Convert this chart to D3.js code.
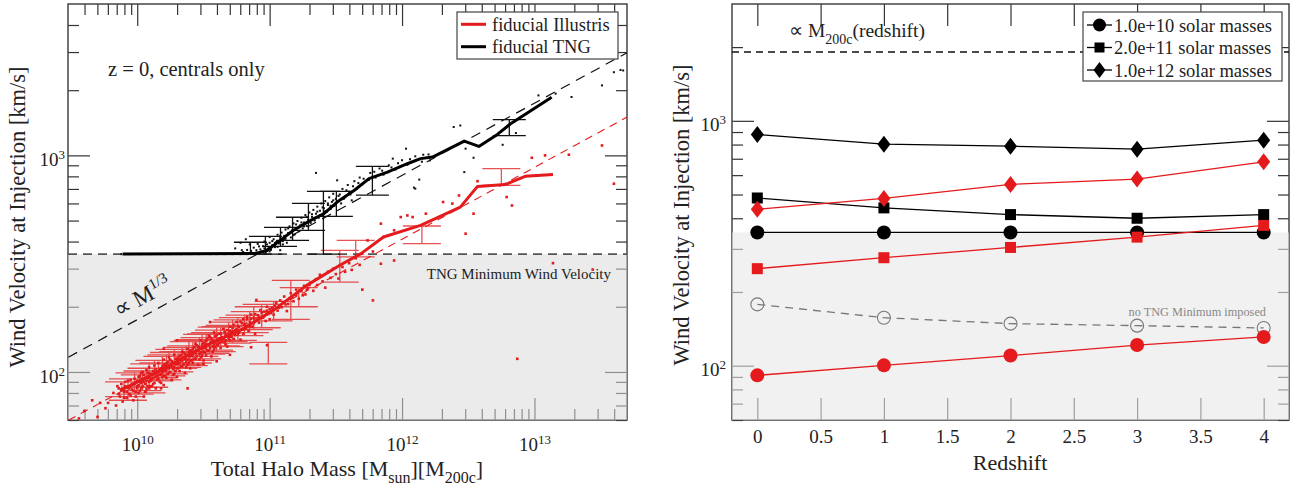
<!DOCTYPE html>
<html><head><meta charset="utf-8">
<script src="https://cdn.jsdelivr.net/npm/d3@7"></script>
<style>body{margin:0;background:#fff}svg{display:block}text{font-family:"Liberation Serif","Times New Roman",serif;fill:#222}</style>
</head><body><svg id="c" width="1298" height="495"></svg>
<script>
// ---------------- data: left panel ----------------
const massDomain = [3e9, 5e13];
const velDomainL = [60, 5000];
const massMajorTicks = [1e10, 1e11, 1e12, 1e13];
const massMinorTicks = [4e9,5e9,6e9,7e9,8e9,9e9,2e10,3e10,4e10,5e10,6e10,7e10,8e10,9e10,2e11,3e11,4e11,5e11,6e11,7e11,8e11,9e11,2e12,3e12,4e12,5e12,6e12,7e12,8e12,9e12,2e13,3e13,4e13];
const velMajorTicks = [100, 1000];
const velMinorTicksL = [60,70,80,90,200,300,400,500,600,700,800,900,2000,3000,4000];
const tngMinimum = 350;
// median relations (log10 halo mass, wind velocity km/s)
const tngMedianLogM = [9.89,10.89,10.98,11.08,11.18,11.31,11.41,11.51,11.64,11.75,11.89,12.04,12.14,12.23,12.47,12.58,12.72,12.82,13.13];
const tngMedianV    = [350,352,364,405,451,501,538,609,690,781,837,915,966,982,1164,1100,1250,1400,1857];
const illMedianLogM = [9.87,10.18,10.48,10.78,11.03,11.28,11.53,11.69,11.86,12.14,12.44,12.57,12.78,12.93,13.14];
const illMedianV    = [82,102,129,156,193,251,311,352,420,475,577,719,733,800,815];
// reference power laws (two end points each)
const tngRefLogM = [9.48, 13.7], tngRefV = [117, 2980];
const illRefLogM = [9.48, 13.7], illRefV = [59.8, 1503];
// error bars [logM, low, high]
const tngErrBars = [[10.855,350,397],[10.968,350,423],[11.082,380,465],[11.173,405,518],[11.293,451,600],[11.406,350,682],[11.504,523,682],[11.776,655,889],[12.81,1233,1462]];
const illErrBars = [[9.93,74,93],[9.98,79,99],[10.04,82,101],[10.09,85,109],[10.13,91,113],[10.19,92,118],[10.24,98,123],[10.28,100,127],[10.34,105,130],[10.39,107,138],[10.44,113,141],[10.49,115,149],[10.55,122,152],[10.6,124,161],[10.66,131,164],[10.72,136,174],[10.81,147,183],[10.88,157,200],[10.99,109,137],[11.03,172,212],[11.16,175,265],[11.22,200,245],[11.53,260,364],[11.65,340,405],[12.15,391,472],[12.75,727,868],
[9.9,77,90],[10.02,85,97],[10.07,80,104],[10.16,94,110],[10.22,96,120],[10.31,104,124],[10.37,108,132],[10.42,110,140],[10.47,118,144],[10.52,121,150],[10.58,126,156],[10.63,132,162],[10.69,138,170],[10.76,140,178],[10.85,152,190],[10.94,160,205]];
// individual haloes [logM, v]
const illScatter = [
[9.56,61],[9.6,66],[9.66,74],[9.7,62],[9.72,72],[9.76,68],[9.78,72],[9.82,80],[9.84,70],[9.86,84],[9.87,77],[9.88,88],[9.89,73],[9.9,81],[9.91,90],[9.92,76],[9.93,85],[9.94,79],[9.95,92],[9.96,83],[9.97,74],[9.98,88],[9.99,81],
[10.0,86],[10.01,95],[10.01,80],[10.02,90],[10.03,99],[10.03,84],[10.04,92],[10.05,77],[10.05,97],[10.06,88],[10.07,102],[10.07,83],[10.08,94],[10.09,90],[10.09,105],[10.1,86],[10.1,98],
[10.11,92],[10.12,101],[10.12,88],[10.13,107],[10.14,95],[10.14,84],[10.15,99],[10.16,110],[10.16,93],[10.17,103],[10.18,89],[10.18,98],[10.19,106],[10.2,96],[10.2,114],[10.2,87],
[10.21,101],[10.22,109],[10.22,94],[10.23,105],[10.24,117],[10.24,99],[10.25,107],[10.26,92],[10.26,112],[10.27,103],[10.28,120],[10.28,98],[10.29,109],[10.3,104],[10.3,115],[10.3,95],
[10.31,110],[10.32,118],[10.32,101],[10.33,113],[10.34,124],[10.34,106],[10.35,116],[10.36,99],[10.36,121],[10.37,111],[10.38,128],[10.38,108],[10.39,118],[10.4,113],[10.4,125],[10.4,104],
[10.41,119],[10.42,128],[10.42,110],[10.43,123],[10.44,135],[10.44,115],[10.45,126],[10.46,108],[10.46,131],[10.47,121],[10.48,140],[10.48,117],[10.49,128],[10.5,124],[10.5,136],[10.5,113],
[10.51,129],[10.52,139],[10.52,119],[10.53,134],[10.54,147],[10.54,125],[10.55,136],[10.56,118],[10.56,143],[10.57,131],[10.58,152],[10.58,127],[10.59,139],[10.6,134],[10.6,148],
[10.61,139],[10.62,150],[10.63,129],[10.64,145],[10.65,158],[10.66,137],[10.67,149],[10.68,131],[10.68,156],[10.69,143],[10.7,162],[10.7,140],
[10.71,150],[10.72,160],[10.73,142],[10.74,156],[10.75,170],[10.76,149],[10.77,161],[10.78,141],[10.79,168],[10.8,157],[10.8,175],
[10.82,163],[10.83,175],[10.84,155],[10.85,170],[10.86,184],[10.87,162],[10.88,178],[10.89,150],[10.9,172],
[10.91,183],[10.92,169],[10.93,193],[10.95,178],[10.96,190],[10.97,172],[10.98,200],[10.99,185],[11.0,195],[11.0,175],
[11.02,198],[11.03,184],[11.05,208],[11.06,192],[11.08,214],[11.09,199],[11.11,223],[11.12,205],[11.13,191],[11.15,219],[11.16,231],[11.18,212],[11.2,226],[11.2,240],
[11.22,218],[11.24,236],[11.26,250],[11.27,228],[11.29,244],[11.31,259],[11.33,237],[11.35,268],[11.36,252],[11.38,281],[11.4,262],[11.42,245],[11.44,290],[11.46,272],[11.48,300],[11.5,283],
[11.52,270],[11.55,305],[11.57,290],[11.6,318],[11.62,296],[11.65,335],[11.68,312],[11.7,352],[11.7,240],[11.74,405],[11.78,360],[11.78,214],[11.84,484],[11.84,316],[11.86,420],[11.94,451],[11.94,327],[11.99,519],[12.04,528],[12.08,519],[12.18,538],[12.31,609],[12.38,599],[12.43,653],[12.48,435],[12.54,538],[12.57,760],[12.79,642],[12.83,587],[12.87,115],[12.98,975],[13.08,1000],[13.14,318],[13.26,1007],[13.44,297],[13.51,1111],[13.6,740],
[10.18,84],[10.38,84],[10.5,109],[10.6,112],[10.7,120],[10.86,130],[10.98,133],[10.2,128],[10.3,140],[10.55,170],[10.9,215],
[9.85,86],[9.86,79],[9.88,83],[9.9,76],[9.91,86],[9.92,81],[9.93,91],[9.94,84],[9.95,78],[9.96,88],[9.97,82],[9.98,93],[9.99,77],[10.0,84],[10.0,91],
[10.01,87],[10.02,82],[10.02,96],[10.03,89],[10.04,86],[10.04,100],[10.05,90],[10.06,81],[10.06,94],[10.07,91],[10.08,86],[10.08,99],[10.09,84],[10.1,93],[10.1,91],
[10.11,97],[10.11,86],[10.12,94],[10.13,100],[10.13,89],[10.14,103],[10.15,92],[10.15,96],[10.16,101],[10.17,90],[10.17,97],[10.18,104],[10.19,95],[10.19,100],[10.2,108],[10.2,101],
[10.21,96],[10.21,107],[10.22,102],[10.23,98],[10.23,111],[10.24,104],[10.25,100],[10.25,114],[10.26,106],[10.27,97],[10.27,110],[10.28,105],[10.29,101],[10.29,115],[10.3,109],
[10.31,104],[10.31,116],[10.32,110],[10.33,106],[10.33,120],[10.34,113],[10.35,109],[10.35,123],[10.36,115],[10.37,105],[10.37,119],[10.38,114],[10.39,110],[10.39,124],[10.4,118],
[10.41,113],[10.41,125],[10.42,119],[10.43,115],[10.43,130],[10.44,122],[10.45,118],[10.45,133],[10.46,125],[10.47,114],[10.47,129],[10.48,123],[10.49,119],[10.49,134],[10.5,130],
[10.51,123],[10.51,135],[10.52,130],[10.53,126],[10.53,142],[10.54,133],[10.55,129],[10.55,145],[10.56,137],[10.57,124],[10.57,140],[10.58,134],[10.59,130],[10.59,146],[10.6,141],
[10.61,133],[10.62,143],[10.62,136],[10.63,150],[10.64,138],[10.65,142],[10.66,153],[10.67,140],[10.67,134],[10.69,150],[10.7,146],[10.7,155],
[10.71,145],[10.72,154],[10.73,165],[10.74,148],[10.75,158],[10.76,163],[10.77,152],[10.78,171],[10.8,150],[10.81,166],[10.82,158],[10.83,180],[10.85,162],[10.86,176],[10.88,168],[10.89,185],
[10.92,178],[10.94,188],[10.96,181],[10.98,192],[11.01,187],[11.04,202],[11.07,198],[11.1,210],[11.14,206],[11.17,220],[11.21,232],[11.25,226],[11.28,240],[11.3,252]
];
const tngScatter = [
[9.88,350],[9.95,350],[10.02,350],[10.1,350],[10.18,350],[10.25,350],[10.33,350],[10.4,350],[10.47,350],[10.55,350],[10.6,350],[10.66,350],[10.72,350],[10.78,350],[10.83,350],[10.88,350],
[10.74,372],[10.78,395],[10.82,410],[10.85,388],[10.79,365],
[10.8,358],[10.83,366],[10.86,362],[10.88,375],[10.9,356],[10.91,390],[10.93,368],[10.95,381],[10.96,400],[10.97,358],[10.99,372],[11.0,395],[11.0,420],
[11.01,366],[11.02,385],[11.03,410],[11.04,377],[11.05,398],[11.06,430],[11.07,392],[11.08,365],[11.08,415],[11.09,440],[11.1,402],
[11.11,425],[11.12,455],[11.13,395],[11.14,438],[11.15,470],[11.16,418],[11.17,450],[11.18,485],[11.19,432],[11.2,462],
[11.21,498],[11.22,447],[11.23,475],[11.24,515],[11.25,460],[11.26,490],[11.27,530],[11.28,472],[11.29,505],[11.3,545],
[11.31,488],[11.32,520],[11.33,560],[11.34,500],[11.35,538],[11.36,580],[11.37,515],[11.38,555],[11.39,600],[11.4,530],
[11.41,570],[11.42,615],[11.43,548],[11.44,590],[11.45,640],[11.46,565],[11.47,610],[11.48,665],[11.49,585],[11.5,630],
[11.52,650],[11.54,600],[11.55,700],[11.57,640],[11.59,730],[11.6,680],[11.62,620],[11.64,760],[11.66,700],[11.68,790],[11.7,735],
[11.73,760],[11.76,830],[11.8,790],[11.83,870],[11.86,815],[11.9,900],[11.95,860],[12.0,950],[12.04,905],[12.1,990],[12.15,935],[12.2,1010],
[11.35,830],[11.51,767],[11.93,966],[12.03,1074],[12.1,702],[12.09,710],[12.13,773],[12.16,1007],[12.21,948],[12.39,1352],[12.44,1374],[12.48,1074],[12.54,975],[12.47,837],[12.76,1119],[12.86,1268],[13.03,1892],[13.16,1928],[13.28,1860],[13.51,2104],[13.6,2421],[13.65,2480],[13.67,2466],
[10.9,365],[10.92,380],[10.94,360],[10.96,372],[10.98,388],[11.0,360],[11.02,402],[11.04,394],[11.06,378],[11.08,425],[11.1,388],[11.12,412],[11.14,460],[11.16,442],[11.18,428],[11.2,480],[11.22,465],[11.24,490],[11.26,470],[11.28,520],[11.3,498],[11.32,535],[11.34,515],[11.36,550],[11.38,528],[11.4,575],[11.42,552],[11.44,600],[11.46,585],[11.48,620],[11.5,598],[11.53,660],[11.56,630],[11.58,690],[11.61,660],[11.63,720],[11.67,745],[11.71,780],[11.75,770],[11.79,840],[11.85,850],[11.92,880],[11.97,920],[12.06,960]
];

// ---------------- data: right panel ----------------
const redshiftDomain = [-0.2, 4.2];
const velDomainR = [60, 3000];
const redshiftTicks = [0,0.5,1,1.5,2,2.5,3,3.5,4];
const velMinorTicksR = [60,70,80,90,200,300,400,500,600,700,800,900,2000];
const redshifts = [0, 1, 2, 3, 4];
const tng1e10 = [350, 350, 350, 350, 350];
const tng2e11 = [484, 441, 414, 400, 414];
const tng1e12 = [880, 803, 788, 766, 834];
const ill1e10 = [91.3, 100.3, 110, 121.4, 131];
const ill2e11 = [249, 276, 304, 335, 374];
const ill1e12 = [435, 482, 550, 578, 680];
const noMin1e10 = [178, 157, 148.5, 145.7, 142.6];
const m200Level = 1910;
const legendLabelsR = ["1.0e+10 solar masses", "2.0e+11 solar masses", "1.0e+12 solar masses"];
const legendLabelsL = ["fiducial Illustris", "fiducial TNG"];

// ---------------- drawing ----------------
const RED = "#e41a1c";
const svg = d3.select("#c");
const L = {x0: 68, x1: 627, y0: 4, y1: 420};
const R = {x0: 732, x1: 1289, y0: 4, y1: 420};
const xL = d3.scaleLog().domain(massDomain).range([L.x0, L.x1]);
const yL = d3.scaleLog().domain(velDomainL).range([L.y1, L.y0]);
const xR = d3.scaleLinear().domain(redshiftDomain).range([R.x0, R.x1]);
const yR = d3.scaleLog().domain(velDomainR).range([R.y1, R.y0]);

function axisG(axis, tx, ty) {
  const g = svg.append("g").attr("transform", `translate(${tx},${ty})`).call(axis);
  g.select(".domain").remove();
  g.attr("color", "#333").attr("font-family", "Liberation Serif, serif").attr("font-size", 19);
  g.selectAll("line").attr("stroke-width", 1.2);
  return g;
}
function pow10Labels(g) {
  g.selectAll("text").each(function(d) {
    const t = d3.select(this);
    const e = Math.round(Math.log10(d));
    t.text("10");
    t.append("tspan").attr("dy", "-0.55em").attr("font-size", "13px").text(e);
  });
}
const none = () => "";

// left axes
let g;
g = axisG(d3.axisBottom(xL).tickValues(massMajorTicks).tickSize(-22).tickPadding(18), 0, L.y1); pow10Labels(g);
axisG(d3.axisBottom(xL).tickValues(massMinorTicks).tickSize(-11).tickFormat(none), 0, L.y1);
axisG(d3.axisTop(xL).tickValues(massMajorTicks).tickSize(-22).tickFormat(none), 0, L.y0);
axisG(d3.axisTop(xL).tickValues(massMinorTicks).tickSize(-11).tickFormat(none), 0, L.y0);
g = axisG(d3.axisLeft(yL).tickValues(velMajorTicks).tickSize(-22).tickPadding(3), L.x0, 0); pow10Labels(g);
g.selectAll("text").attr("dy", "0.55em");
axisG(d3.axisLeft(yL).tickValues(velMinorTicksL).tickSize(-11).tickFormat(none), L.x0, 0);
axisG(d3.axisRight(yL).tickValues(velMajorTicks).tickSize(-22).tickFormat(none), L.x1, 0);
axisG(d3.axisRight(yL).tickValues(velMinorTicksL).tickSize(-11).tickFormat(none), L.x1, 0);
svg.append("rect").attr("x", L.x0).attr("y", L.y0).attr("width", L.x1 - L.x0).attr("height", L.y1 - L.y0)
  .attr("fill", "none").attr("stroke", "#444").attr("stroke-width", 1.5);

// right axes
axisG(d3.axisBottom(xR).tickValues(redshiftTicks).tickSize(-22).tickPadding(10).tickFormat(d3.format("")), 0, R.y1);
axisG(d3.axisTop(xR).tickValues(redshiftTicks).tickSize(-22).tickFormat(none), 0, R.y0);
g = axisG(d3.axisLeft(yR).tickValues(velMajorTicks).tickSize(-22).tickPadding(6), R.x0, 0); pow10Labels(g);
g.selectAll("text").attr("dy", "0.5em");
axisG(d3.axisLeft(yR).tickValues(velMinorTicksR).tickSize(-11).tickFormat(none), R.x0, 0);
axisG(d3.axisRight(yR).tickValues(velMajorTicks).tickSize(-22).tickFormat(none), R.x1, 0);
axisG(d3.axisRight(yR).tickValues(velMinorTicksR).tickSize(-11).tickFormat(none), R.x1, 0);
svg.append("rect").attr("x", R.x0).attr("y", R.y0).attr("width", R.x1 - R.x0).attr("height", R.y1 - R.y0)
  .attr("fill", "none").attr("stroke", "#444").attr("stroke-width", 1.5);

// shaded regions (below TNG minimum)
svg.append("rect").attr("x", L.x0).attr("y", yL(tngMinimum)).attr("width", L.x1 - L.x0).attr("height", L.y1 - yL(tngMinimum))
  .attr("fill", "#dadada").attr("opacity", 0.55);
svg.append("rect").attr("x", R.x0).attr("y", yR(tngMinimum)).attr("width", R.x1 - R.x0).attr("height", R.y1 - yR(tngMinimum))
  .attr("fill", "#e8e8e8").attr("opacity", 0.6);

// clip paths
const defs = svg.append("defs");
defs.append("clipPath").attr("id", "clipL").append("rect").attr("x", L.x0).attr("y", L.y0).attr("width", L.x1 - L.x0).attr("height", L.y1 - L.y0);
defs.append("clipPath").attr("id", "clipR").append("rect").attr("x", R.x0).attr("y", R.y0).attr("width", R.x1 - R.x0).attr("height", R.y1 - R.y0);

// ---------- left panel content ----------
const gl = svg.append("g").attr("clip-path", "url(#clipL)");
gl.append("line").attr("x1", L.x0).attr("x2", L.x1).attr("y1", yL(tngMinimum)).attr("y2", yL(tngMinimum))
  .attr("stroke", "#555").attr("stroke-width", 1.6).attr("stroke-dasharray", "9,6");
const refLine = d3.line().x(d => xL(Math.pow(10, d[0]))).y(d => yL(d[1]));
gl.append("path").attr("d", refLine(d3.zip(tngRefLogM, tngRefV))).attr("fill", "none").attr("stroke", "#111").attr("stroke-width", 1.2).attr("stroke-dasharray", "10,7");

function errBars(data, color, op, hw) {
  const eg = gl.append("g").attr("stroke", color).attr("stroke-width", 1.3).attr("opacity", op);
  data.forEach(d => {
    const x = xL(Math.pow(10, d[0])), ylo = yL(d[1]), yhi = yL(d[2]);
    eg.append("line").attr("x1", x).attr("x2", x).attr("y1", ylo).attr("y2", yhi);
    eg.append("line").attr("x1", x - hw).attr("x2", x + hw).attr("y1", ylo).attr("y2", ylo);
    eg.append("line").attr("x1", x - hw).attr("x2", x + hw).attr("y1", yhi).attr("y2", yhi);
  });
}
errBars(illErrBars, RED, 0.75, 19);
errBars(tngErrBars, "#111", 1, 16.5);

gl.append("g").selectAll("rect").data(illScatter).join("rect")
  .attr("x", d => xL(Math.pow(10, d[0])) - 1.3).attr("y", d => yL(d[1]) - 1.3).attr("width", 2.6).attr("height", 2.6).attr("fill", RED);
gl.append("g").selectAll("rect").data(tngScatter).join("rect")
  .attr("x", d => xL(Math.pow(10, d[0])) - 1).attr("y", d => yL(d[1]) - 1).attr("width", 2).attr("height", 2).attr("fill", "#111");

gl.append("path").attr("d", refLine(d3.zip(illRefLogM, illRefV))).attr("fill", "none").attr("stroke", RED).attr("stroke-width", 1.1).attr("stroke-dasharray", "8,6");
gl.append("path").attr("d", refLine(d3.zip(illMedianLogM, illMedianV))).attr("fill", "none").attr("stroke", RED).attr("stroke-width", 3).attr("stroke-linejoin", "round");
gl.append("path").attr("d", refLine(d3.zip(tngMedianLogM, tngMedianV))).attr("fill", "none").attr("stroke", "#000").attr("stroke-width", 3).attr("stroke-linejoin", "round");

// left annotations
svg.append("text").attr("x", 611).attr("y", 279).attr("text-anchor", "end").attr("font-size", 15).text("TNG Minimum Wind Velocity");
svg.append("text").attr("x", 108).attr("y", 76).attr("font-size", 20.5).text("z = 0, centrals only");
const pl = svg.append("text").attr("transform", "translate(119,318) rotate(-28.6)").attr("font-size", 23);
pl.append("tspan").text("\u221D M");
pl.append("tspan").attr("dy", -9).attr("font-size", 15).text("1/3");

// left legend
svg.append("rect").attr("x", 457).attr("y", 12).attr("width", 161).attr("height", 47).attr("fill", "#fff").attr("stroke", "#444").attr("stroke-width", 1.2);
[[RED, 24.3], ["#000", 46.7]].forEach((c, i) => {
  svg.append("line").attr("x1", 461).attr("x2", 486).attr("y1", c[1]).attr("y2", c[1]).attr("stroke", c[0]).attr("stroke-width", 3);
  svg.append("text").attr("x", 492).attr("y", c[1] + 6.5).attr("font-size", 18.5).text(legendLabelsL[i]);
});

// left axis titles
const xt = svg.append("text").attr("x", 347).attr("y", 476).attr("text-anchor", "middle").attr("font-size", 22);
xt.append("tspan").text("Total Halo Mass [M");
xt.append("tspan").attr("dy", 7).attr("font-size", 16).text("sun");
xt.append("tspan").attr("dy", -7).text("][M");
xt.append("tspan").attr("dy", 7).attr("font-size", 16).text("200c");
xt.append("tspan").attr("dy", -7).text("]");
svg.append("text").attr("transform", "translate(25,217) rotate(-90)").attr("text-anchor", "middle").attr("font-size", 22.5).text("Wind Velocity at Injection [km/s]");

// ---------- right panel content ----------
const gr = svg.append("g").attr("clip-path", "url(#clipR)");
gr.append("line").attr("x1", R.x0).attr("x2", R.x1).attr("y1", yR(m200Level)).attr("y2", yR(m200Level))
  .attr("stroke", "#111").attr("stroke-width", 1.3).attr("stroke-dasharray", "7,5");
const lineR = d3.line().x(d => xR(d[0])).y(d => yR(d[1]));
const diamond = "M0,-8.5L6.5,0L0,8.5L-6.5,0Z";
function series(vals, color, shape, dashed) {
  const pts = d3.zip(redshifts, vals);
  gr.append("path").attr("d", lineR(pts)).attr("fill", "none").attr("stroke", color).attr("stroke-width", 1.3)
    .attr("stroke-dasharray", dashed ? "8,6" : null);
  const mg = gr.append("g");
  pts.forEach(p => {
    const x = xR(p[0]), y = yR(p[1]);
    if (shape === "circle") mg.append("circle").attr("cx", x).attr("cy", y).attr("r", 7).attr("fill", color);
    else if (shape === "open") mg.append("circle").attr("cx", x).attr("cy", y).attr("r", 6.5).attr("fill", "none").attr("stroke", color).attr("stroke-width", 1.1);
    else if (shape === "square") mg.append("rect").attr("x", x - 5.5).attr("y", y - 5.5).attr("width", 11).attr("height", 11).attr("fill", color);
    else mg.append("path").attr("transform", `translate(${x},${y})`).attr("d", diamond).attr("fill", color);
  });
}
series(noMin1e10, "#777", "open", true);
series(tng1e10, "#000", "circle");
series(tng2e11, "#000", "square");
series(tng1e12, "#000", "diamond");
series(ill1e10, RED, "circle");
series(ill2e11, RED, "square");
series(ill1e12, RED, "diamond");

svg.append("text").attr("x", 1266).attr("y", 316).attr("text-anchor", "end").attr("font-size", 12.3).style("fill", "#888").text("no TNG Minimum imposed");
const mt = svg.append("text").attr("x", 789).attr("y", 37).attr("font-size", 19.5);
mt.append("tspan").text("\u221D M");
mt.append("tspan").attr("dy", 7).attr("font-size", 14).text("200c");
mt.append("tspan").attr("dy", -7).text("(redshift)");

// right legend
svg.append("rect").attr("x", 1083).attr("y", 12).attr("width", 199).attr("height", 69).attr("fill", "#fff").attr("stroke", "#444").attr("stroke-width", 1.2);
[25, 47.5, 70].forEach((yy, i) => {
  svg.append("line").attr("x1", 1087).attr("x2", 1112).attr("y1", yy).attr("y2", yy).attr("stroke", "#000").attr("stroke-width", 1.3);
  if (i === 0) svg.append("circle").attr("cx", 1099.5).attr("cy", yy).attr("r", 6.5);
  else if (i === 1) svg.append("rect").attr("x", 1094.5).attr("y", yy - 5).attr("width", 10).attr("height", 10);
  else svg.append("path").attr("transform", `translate(1099.5,${yy})`).attr("d", "M0,-8L6,0L0,8L-6,0Z");
  svg.append("text").attr("x", 1114).attr("y", yy + 6.5).attr("font-size", 18.5).text(legendLabelsR[i]);
});

// right axis titles
svg.append("text").attr("x", 1010).attr("y", 470).attr("text-anchor", "middle").attr("font-size", 22).text("Redshift");
svg.append("text").attr("transform", "translate(689,215) rotate(-90)").attr("text-anchor", "middle").attr("font-size", 22.5).text("Wind Velocity at Injection [km/s]");
</script></body></html>
